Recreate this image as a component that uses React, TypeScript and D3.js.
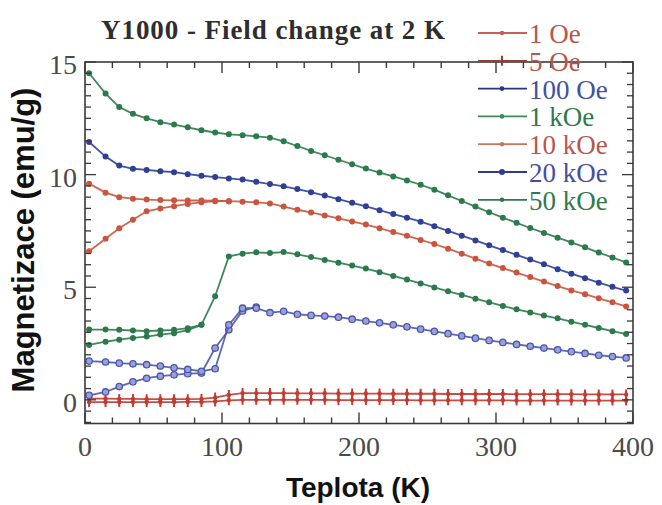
import React from 'react';
import * as d3 from 'd3';

// Temperature grid (K) for the measured points
const temps = [3, 15, 25, 35, 45, 55, 65, 75, 85, 95, 105, 115, 125, 135, 145, 155, 165, 175, 185, 195, 205, 215, 225, 235, 245, 255, 265, 275, 285, 295, 305, 315, 325, 335, 345, 355, 365, 375, 385, 395];

// Magnetization (emu/g)
const m50kOe = [14.5, 13.6, 13.0, 12.7, 12.5, 12.33, 12.22, 12.1, 11.97, 11.87, 11.79, 11.75, 11.7, 11.64, 11.48, 11.27, 11.05, 10.86, 10.66, 10.46, 10.27, 10.09, 9.92, 9.74, 9.55, 9.33, 9.08, 8.83, 8.58, 8.33, 8.09, 7.86, 7.63, 7.41, 7.2, 6.99, 6.77, 6.54, 6.32, 6.1];
const m20kOe = [11.45, 10.8, 10.4, 10.26, 10.21, 10.15, 10.11, 10.02, 9.95, 9.89, 9.83, 9.78, 9.68, 9.58, 9.48, 9.36, 9.22, 9.07, 8.91, 8.75, 8.59, 8.42, 8.25, 8.09, 7.91, 7.71, 7.5, 7.29, 7.08, 6.86, 6.65, 6.44, 6.23, 6.02, 5.8, 5.6, 5.4, 5.2, 5.02, 4.85];
const m10kOeFC = [9.6, 9.2, 9.0, 8.93, 8.89, 8.87, 8.86, 8.85, 8.85, 8.84, 8.82, 8.8, 8.77, 8.72, 8.58, 8.44, 8.32, 8.19, 8.06, 7.92, 7.78, 7.62, 7.45, 7.29, 7.1, 6.92, 6.71, 6.49, 6.27, 6.05, 5.85, 5.65, 5.45, 5.25, 5.05, 4.86, 4.69, 4.51, 4.33, 4.15];
const m10kOeZFC = [6.6, 7.15, 7.62, 8.0, 8.37, 8.5, 8.6, 8.7, 8.77, 8.82, 8.82];
const m1kOeFC = [3.12, 3.12, 3.11, 3.08, 3.05, 3.08, 3.11, 3.18, 3.33, 4.6, 6.37, 6.49, 6.55, 6.52, 6.56, 6.46, 6.34, 6.21, 6.09, 5.96, 5.83, 5.67, 5.5, 5.34, 5.17, 4.99, 4.82, 4.66, 4.49, 4.33, 4.17, 4.02, 3.88, 3.74, 3.62, 3.47, 3.33, 3.19, 3.05, 2.92];
const m1kOeZFC = [2.44, 2.58, 2.67, 2.75, 2.81, 2.9, 2.96, 3.1, 3.33];
const m100OeFC = [1.72, 1.68, 1.63, 1.6, 1.56, 1.5, 1.42, 1.35, 1.27, 1.38, 3.33, 4.07, 4.07, 3.87, 3.93, 3.8, 3.75, 3.72, 3.67, 3.58, 3.5, 3.42, 3.33, 3.24, 3.14, 3.04, 2.94, 2.84, 2.74, 2.64, 2.55, 2.46, 2.38, 2.3, 2.22, 2.14, 2.06, 1.98, 1.92, 1.86];
const m100OeZFC = [0.2, 0.35, 0.59, 0.8, 0.96, 1.05, 1.11, 1.16, 1.19, 2.3, 3.11, 3.95, 4.12];
const m5Oe = [0.05, 0.05, 0.04, 0.04, 0.03, 0.03, 0.03, 0.03, 0.04, 0.1, 0.22, 0.3, 0.3, 0.3, 0.3, 0.29, 0.29, 0.29, 0.28, 0.28, 0.28, 0.28, 0.27, 0.27, 0.27, 0.27, 0.26, 0.26, 0.26, 0.26, 0.26, 0.25, 0.25, 0.25, 0.25, 0.25, 0.24, 0.24, 0.24, 0.24];
const m1Oe = [-0.1, -0.1, -0.1, -0.1, -0.1, -0.1, -0.1, -0.09, -0.09, -0.07, -0.02, 0.0, 0.0, 0.0, 0.0, 0.0, 0.0, 0.0, -0.01, -0.01, -0.01, -0.01, -0.01, -0.01, -0.02, -0.02, -0.02, -0.02, -0.02, -0.02, -0.02, -0.03, -0.03, -0.03, -0.03, -0.03, -0.03, -0.03, -0.03, -0.03];

// Legend
const legendLabels = ['1 Oe', '5 Oe', '100 Oe', '1 kOe', '10 kOe', '20 kOe', '50 kOe'];
const legendLineColors = ['#c8605a', '#9a3a32', '#2a3580', '#3c8a5c', '#d0705e', '#2e3c90', '#2f7a4e'];
const legendTextColors = ['#b9564c', '#b9564c', '#44509e', '#2f7a4e', '#b9564c', '#44509e', '#2f7a4e'];

// Axis tick labels
const xTickLabels = [0, 100, 200, 300, 400];
const yTickLabels = [0, 5, 10, 15];

const GREEN = '#2b7a4b';
const BLUE = '#2f3f96';
const RED = '#c9553f';
const BLUE_LIGHT = '#4b56aa';
const RED_ZERO = '#c23a30';

const SERIF = '"Liberation Serif", "DejaVu Serif", serif';
const SANS = '"Liberation Sans", Arial, sans-serif';

export default function App() {
  const x = d3.scaleLinear().domain([0, 400]).range([85, 633]);
  const y = d3.scaleLinear().domain([-1.05, 15]).range([423.5, 62]);
  const line = d3.line<[number, number]>().x(d => x(d[0])).y(d => y(d[1]));

  const pts = (vals: number[]) => vals.map((v, i) => [temps[i], v] as [number, number]);

  const series = [
    { data: pts(m1Oe), color: RED_ZERO, marker: 'vtick' },
    { data: pts(m5Oe), color: RED_ZERO, marker: 'vtick' },
    { data: pts(m100OeZFC), color: BLUE_LIGHT, marker: 'open' },
    { data: pts(m100OeFC), color: BLUE_LIGHT, marker: 'open' },
    { data: pts(m1kOeZFC), color: GREEN, marker: 'dot' },
    { data: pts(m1kOeFC), color: GREEN, marker: 'dot' },
    { data: pts(m10kOeZFC), color: RED, marker: 'dot' },
    { data: pts(m10kOeFC), color: RED, marker: 'dot' },
    { data: pts(m20kOe), color: BLUE, marker: 'dot' },
    { data: pts(m50kOe), color: GREEN, marker: 'dot' },
  ];

  const xMinor = d3.range(0, 401, 20);
  const yMinor = d3.range(-1, 15.01, 0.5);
  const [x0, x1] = x.range();
  const [yB, yT] = y.range();
  const frame = '#3a3a3a';

  const legendY0 = 33;
  const legendStep = 27.8;

  return (
    <svg width={662} height={505} style={{ position: 'absolute', left: 0, top: 0, background: '#fff' }}>
      <rect x={0} y={0} width={662} height={505} fill="#fff" />
      <defs>
        <clipPath id="plotclip">
          <rect x={x0} y={yT} width={x1 - x0} height={yB - yT} />
        </clipPath>
      </defs>
      {/* title */}
      <text x={101} y={39} fontFamily={SERIF} fontWeight="bold" fontSize={27} fill="#2e2e2e" textLength={344} lengthAdjust="spacing">
        Y1000 - Field change at 2 K
      </text>

      {/* series */}
      <g clipPath="url(#plotclip)">
        {series.map((s, i) => (
          <g key={i}>
            <path d={line(s.data) || ''} fill="none" stroke={s.color} strokeWidth={1.8} strokeOpacity={0.9} />
            {s.data.map((d, j) =>
              s.marker === 'vtick' ? (
                <g key={j}>
                  <line x1={x(d[0])} x2={x(d[0])} y1={y(d[1]) - 5} y2={y(d[1]) + 5} stroke={s.color} strokeWidth={2} />
                  <circle cx={x(d[0])} cy={y(d[1])} r={2.2} fill={s.color} />
                </g>
              ) : s.marker === 'open' ? (
                <circle key={j} cx={x(d[0])} cy={y(d[1])} r={3.2} fill="#9aa0d8" stroke={s.color} strokeWidth={1.3} />
              ) : (
                <circle key={j} cx={x(d[0])} cy={y(d[1])} r={3} fill={s.color} />
              )
            )}
          </g>
        ))}
      </g>

      {/* frame */}
      <rect x={x0} y={yT} width={x1 - x0} height={yB - yT} fill="none" stroke={frame} strokeWidth={1.6} />

      {/* x ticks (bottom & top, inward) */}
      {xMinor.map(v => {
        const len = v % 100 === 0 ? 11 : 6;
        return (
          <g key={'xt' + v}>
            <line x1={x(v)} x2={x(v)} y1={yB} y2={yB - len} stroke={frame} strokeWidth={1.4} />
            <line x1={x(v)} x2={x(v)} y1={yT} y2={yT + len} stroke={frame} strokeWidth={1.4} />
          </g>
        );
      })}
      {/* y ticks (left & right, inward) */}
      {yMinor.map(v => {
        const len = Math.abs(v % 5) < 1e-6 ? 11 : 6;
        return (
          <g key={'yt' + v}>
            <line x1={x0} x2={x0 + len} y1={y(v)} y2={y(v)} stroke={frame} strokeWidth={1.3} />
            <line x1={x1} x2={x1 - len} y1={y(v)} y2={y(v)} stroke={frame} strokeWidth={1.3} />
          </g>
        );
      })}

      {/* tick labels */}
      {xTickLabels.map(v => (
        <text key={'xl' + v} x={x(v)} y={456} textAnchor="middle" fontFamily={SERIF} fontSize={28} fill="#4a4a4a">
          {v}
        </text>
      ))}
      {yTickLabels.map(v => (
        <text key={'yl' + v} x={77} y={y(v) + 12} textAnchor="end" fontFamily={SERIF} fontSize={28} fill="#4a4a4a">
          {v}
        </text>
      ))}

      {/* axis titles */}
      <text x={358} y={497} textAnchor="middle" fontFamily={SANS} fontWeight="bold" fontSize={28} fill="#111">
        Teplota (K)
      </text>
      <text transform="translate(34,240) rotate(-90)" textAnchor="middle" fontFamily={SANS} fontWeight="bold" fontSize={31} fill="#111">
        Magnetizace (emu/g)
      </text>

      {/* legend */}
      {legendLabels.map((lab, i) => {
        const ly = legendY0 + i * legendStep;
        return (
          <g key={'lg' + i}>
            <line x1={478} x2={527} y1={ly} y2={ly} stroke={legendLineColors[i]} strokeWidth={1.8} />
            {i === 1 ? (
              <line x1={502} x2={502} y1={ly - 5} y2={ly + 5} stroke={legendLineColors[i]} strokeWidth={2} />
            ) : (
              <circle cx={502} cy={ly} r={i === 5 ? 3 : 2.3} fill={legendLineColors[i]} />
            )}
            <text x={529} y={ly + 10} fontFamily={SERIF} fontSize={27} fill={legendTextColors[i]}>
              {lab}
            </text>
          </g>
        );
      })}
    </svg>
  );
}
